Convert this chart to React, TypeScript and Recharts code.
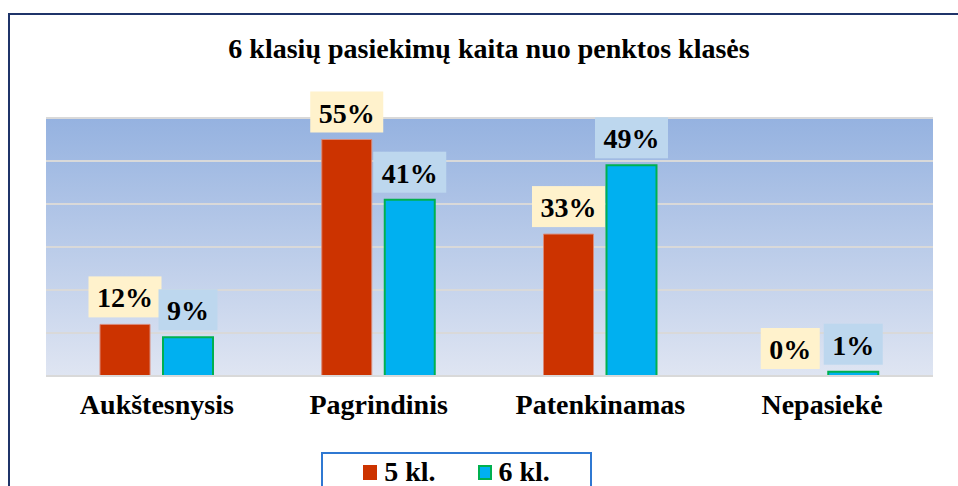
import React from 'react'
import { BarChart, Bar, XAxis, YAxis, CartesianGrid, LabelList } from 'recharts'

const categories = ['Aukštesnysis', 'Pagrindinis', 'Patenkinamas', 'Nepasiekė']
const grade5 = [12, 55, 33, 0]
const grade6 = [9, 41, 49, 1]
const yTicks = [0, 10, 20, 30, 40, 50, 60]

const data = categories.map((name, i) => ({ name, g5: grade5[i], g6: grade6[i] }))

const series = [
  { key: 'g5', name: '5 kl.', fill: '#CC3300', stroke: '#D98A7A', sw: 1, labelBg: '#FFF2CC' },
  { key: 'g6', name: '6 kl.', fill: '#00B0F0', stroke: '#00B050', sw: 2, labelBg: '#BDD7EE' },
]

const FONT = '"Liberation Serif", "Times New Roman", serif'

// label box above each bar, like the Excel data callouts
function boxLabel(bg: string) {
  return (props: any) => {
    const { x, y, width, value } = props
    const text = `${value}%`
    const digits = String(value).length
    const w = 17 + digits * 14 + 28
    const h = 41
    const cx = x + width / 2
    const top = y - 7 - h
    return (
      <g>
        <rect x={cx - w / 2} y={top} width={w} height={h} fill={bg} />
        <text x={cx} y={top + 31} textAnchor="middle" fontFamily={FONT} fontWeight="bold" fontSize={28} fill="#000">
          {text}
        </text>
      </g>
    )
  }
}

// zero bars still need a (invisible) rect so their label gets drawn
const minSize = (v: number) => (v === 0 ? 0.01 : 0)

export default function App() {
  return (
    <div style={{ position: 'absolute', left: 0, top: 0, width: 958, height: 486, overflow: 'hidden', background: '#fff' }}>
      <div style={{ position: 'absolute', left: 8, top: 13, width: 960, height: 480, borderTop: '2px solid #1F3469', borderLeft: '2px solid #1F3469' }} />
      <div style={{
        position: 'absolute', left: 0, top: 33, width: 978, textAlign: 'center',
        fontFamily: FONT, fontWeight: 'bold', fontSize: 28, color: '#000',
      }}>
        6 klasių pasiekimų kaita nuo penktos klasės
      </div>
      <div style={{ position: 'absolute', left: 0, top: 0 }}>
        <BarChart width={958} height={486} data={data}
          margin={{ top: 118, right: 25, bottom: 80, left: 46 }}
          barSize={50} barGap={13}>
          <defs>
            <linearGradient id="plotBg" x1="0" y1="0" x2="0" y2="1">
              <stop offset="0%" stopColor="#95B2E0" />
              <stop offset="100%" stopColor="#DFE5F2" />
            </linearGradient>
          </defs>
          <CartesianGrid vertical={false} stroke="#D9D9D9" strokeWidth={2} fill="url(#plotBg)" />
          <YAxis hide domain={[0, 60]} ticks={yTicks} />
          <XAxis dataKey="name" height={30} axisLine={{ stroke: '#D9D9D9', strokeWidth: 2 }} tickLine={false} tickMargin={12}
            tick={{ fill: '#000', fontSize: 28, fontWeight: 'bold', fontFamily: FONT }} />
          {series.map(s => (
            <Bar key={s.key} dataKey={s.key} name={s.name} fill={s.fill} stroke={s.stroke} strokeWidth={s.sw}
              minPointSize={minSize} isAnimationActive={false}>
              <LabelList dataKey={s.key} content={boxLabel(s.labelBg)} />
            </Bar>
          ))}
        </BarChart>
      </div>
      <div style={{
        position: 'absolute', left: 321, top: 452, boxSizing: 'border-box', width: 271, height: 40,
        border: '2px solid #2F78D2', borderBottom: 'none',
        display: 'flex', justifyContent: 'center', alignItems: 'flex-start', gap: 42, paddingTop: 5,
      }}>
        {series.map(s => (
          <div key={s.key} style={{ display: 'flex', alignItems: 'center', gap: 7 }}>
            <span style={{
              boxSizing: 'border-box', display: 'inline-block', width: 14, height: 15, background: s.fill,
              border: s.sw > 1 ? `2px solid ${s.stroke}` : 'none',
            }} />
            <span style={{ fontFamily: FONT, fontWeight: 'bold', fontSize: 28, color: '#000', lineHeight: '26px' }}>{s.name}</span>
          </div>
        ))}
      </div>
    </div>
  )
}
